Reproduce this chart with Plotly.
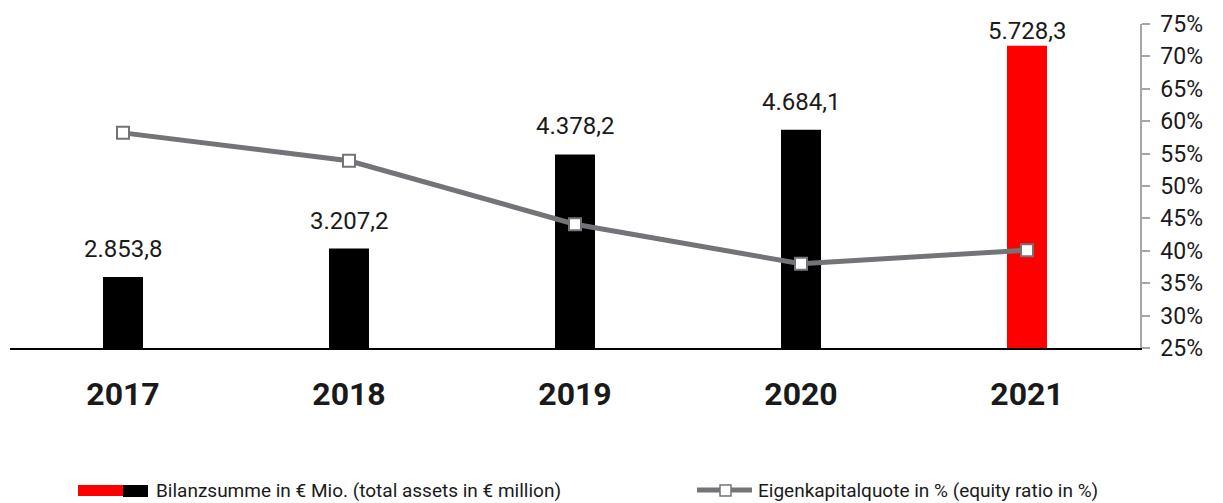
import plotly.graph_objects as go

years = ["2017", "2018", "2019", "2020", "2021"]
total_assets = [2853.8, 3207.2, 4378.2, 4684.1, 5728.3]
equity_ratio = [58.2, 53.9, 44.1, 38.0, 40.1]
bar_colors = ["#000000", "#000000", "#000000", "#000000", "#FF0000"]

assets_label = "Bilanzsumme in € Mio. (total assets in € million)"
equity_label = "Eigenkapitalquote in % (equity ratio in %)"

FONT = "Roboto"
TEXT = "#1a1a1a"
GREY = "#737477"
AXIS_GREY = "#a6a6a6"

# the page puts the figure 8px in from the top-left corner
OFF = 8
W, H = 1223 - 2 * OFF, 503 - OFF
# plot area in page pixels: x 10..1140, y 24..348
L, R, T, B = 10 - OFF, 1140 - OFF, 24 - OFF, 348 - OFF
Y_RANGE = [1970, 6000]


def px_x(px):
    return (px - OFF - L) / (R - L)


def px_y(py):
    return (B - (py - OFF)) / (B - T)


def de_num(v):
    s = f"{v:,.1f}"
    return s.replace(",", "#").replace(".", ",").replace("#", ".")


fig = go.Figure()

fig.add_trace(go.Bar(
    x=years, y=total_assets,
    marker=dict(color=bar_colors, line=dict(width=0)),
    width=0.177, name=assets_label, showlegend=False,
    hoverinfo="skip",
))

fig.add_trace(go.Scatter(
    x=years, y=equity_ratio, yaxis="y2",
    mode="lines+markers", name=equity_label, showlegend=False,
    line=dict(color=GREY, width=5),
    marker=dict(symbol="square", size=12, color="white",
                line=dict(color=GREY, width=2)),
    hoverinfo="skip",
))

# value labels above the bars; labels near the top are pulled down to fit
px_per_unit = (B - T) / (Y_RANGE[1] - Y_RANGE[0])
for i, v in enumerate(total_assets):
    room = (Y_RANGE[1] - v) * px_per_unit
    fig.add_annotation(
        x=i, y=v, text=de_num(v), showarrow=False,
        yanchor="bottom", yshift=min(12, room - 23),
        font=dict(family=FONT, size=24, color=TEXT),
    )

# custom legend (red + black swatch for the bars, line with square marker)
fig.add_shape(type="rect", xref="paper", yref="paper",
              x0=px_x(78), x1=px_x(123), y0=px_y(496), y1=px_y(485),
              fillcolor="#FF0000", line=dict(width=0))
fig.add_shape(type="rect", xref="paper", yref="paper",
              x0=px_x(123), x1=px_x(148), y0=px_y(497), y1=px_y(485),
              fillcolor="#000000", line=dict(width=0))
fig.add_annotation(xref="paper", yref="paper", x=px_x(154), y=px_y(490),
                   xanchor="left", yanchor="middle", showarrow=False,
                   text=assets_label,
                   font=dict(family=FONT, size=19, color=TEXT))

fig.add_shape(type="line", xref="paper", yref="paper",
              x0=px_x(697), x1=px_x(752), y0=px_y(490), y1=px_y(490),
              line=dict(color=GREY, width=5))
fig.add_shape(type="rect", xref="paper", yref="paper",
              x0=px_x(720), x1=px_x(731), y0=px_y(496), y1=px_y(485),
              fillcolor="white", line=dict(color=GREY, width=1.5))
fig.add_annotation(xref="paper", yref="paper", x=px_x(756), y=px_y(490),
                   xanchor="left", yanchor="middle", showarrow=False,
                   text=equity_label,
                   font=dict(family=FONT, size=19, color=TEXT))

fig.update_layout(
    width=W, height=H,
    margin=dict(l=L, r=W - R, t=T, b=H - B, autoexpand=False),
    paper_bgcolor="white", plot_bgcolor="white",
    font=dict(family=FONT, color=TEXT),
    xaxis=dict(
        type="category", range=[-0.5, 4.5], automargin=False,
        showline=True, linecolor="#000000", linewidth=1.5,
        ticks="", showgrid=False, zeroline=False,
        tickfont=dict(family=FONT, size=32, color=TEXT, weight="bold"),
        ticklabelstandoff=17,
    ),
    yaxis=dict(visible=False, range=Y_RANGE, showgrid=False),
    yaxis2=dict(
        overlaying="y", side="right", range=[25, 75], dtick=5,
        automargin=False,
        ticksuffix="%", showgrid=False, zeroline=False,
        showline=True, linecolor=AXIS_GREY, linewidth=1.5,
        ticks="outside", ticklen=8, tickcolor=AXIS_GREY, tickwidth=1.5,
        tickfont=dict(family=FONT, size=23, color=TEXT),
        ticklabelstandoff=6,
    ),
)

fig.write_html("out.html")
